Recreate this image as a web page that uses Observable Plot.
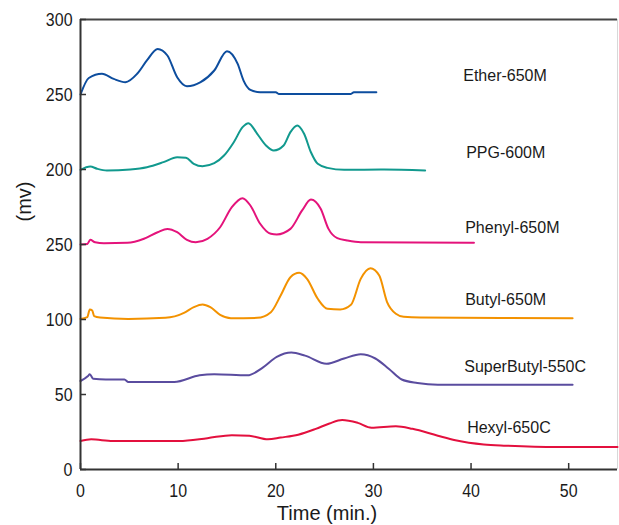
<!DOCTYPE html>
<html><head><meta charset="utf-8">
<script src="https://cdn.jsdelivr.net/npm/d3@7"></script>
<script src="https://cdn.jsdelivr.net/npm/@observablehq/plot@0.6"></script>
<style>
html,body{margin:0;padding:0;background:#fff;}
#chart svg{display:block;}
</style></head><body><div id="chart"></div>
<script>
// Series names and colours
const seriesNames = ["Ether-650M", "PPG-600M", "Phenyl-650M", "Butyl-650M", "SuperButyl-550C", "Hexyl-650C"];
const seriesColors = ["#0d4d9e", "#11998e", "#e4137b", "#f39200", "#5a4c9f", "#e3103e"];

// Ether-650M
const etherT = [0, 0.85, 2.2, 3.4, 4.6, 5.8, 6.8, 7.9, 8.9, 9.9, 10.9, 12.3, 13.7, 15.0, 16.1, 16.7, 17.4, 18.4, 20.0, 20.3, 27.7, 28.0, 30.3];
const etherV = [250, 261, 263.8, 260.4, 258.2, 263.8, 272.7, 280.4, 276, 261.5, 255.5, 258.2, 266, 278.9, 270.4, 259.3, 253.1, 251.5, 251.5, 250.4, 250.4, 251.5, 251.5];

// PPG-600M
const ppgT = [0, 1.0, 1.7, 2.7, 5.1, 6.8, 8.5, 9.9, 10.8, 11.6, 12.5, 13.7, 14.7, 15.7, 16.6, 17.2, 18.1, 19.0, 19.8, 20.8, 21.5, 22.2, 22.9, 23.6, 24.3, 25.3, 27.0, 31.1, 35.3];
const ppgV = [199.8, 202, 200.5, 199.3, 200, 201.5, 204.9, 208.2, 207.8, 203.8, 202.2, 204.2, 209.3, 218.2, 228.2, 230.9, 223.8, 216, 212.7, 216, 224.9, 229.3, 223.8, 211.5, 203.8, 201.1, 199.8, 200, 199.3];

// Phenyl-650M
const phenylT = [0, 0.7, 1.0, 1.5, 2.4, 4.8, 6.5, 7.9, 8.9, 9.9, 10.9, 11.8, 13.0, 14.3, 15.5, 16.6, 17.4, 18.4, 19.5, 20.1, 21.5, 22.7, 23.6, 24.6, 25.4, 26.3, 27.3, 28.7, 40.3];
const phenylV = [150, 150.4, 153.1, 151.5, 150.9, 151.1, 153.8, 158.2, 160.4, 158.2, 153.1, 151.5, 153.8, 161.5, 174.9, 180.9, 176, 163.8, 157.1, 156.7, 160.4, 172.7, 180, 173.8, 160.4, 154.2, 152.7, 151.5, 151.1];

// Butyl-650M
const butylT = [0, 0.7, 0.95, 1.2, 1.4, 2.0, 4.9, 8.7, 10.6, 11.6, 12.5, 13.3, 14.3, 15.4, 18.1, 19.5, 20.5, 21.5, 22.4, 23.2, 24.3, 25.3, 26.6, 27.7, 28.7, 29.7, 30.6, 31.4, 32.3, 33.1, 34.8, 50.4];
const butylV = [100.4, 101.6, 106.7, 106, 102.2, 101.3, 100.4, 101.1, 104.4, 108.2, 110, 108.2, 103.1, 100.9, 101.1, 104.9, 116, 128.2, 131.1, 127.1, 113.8, 107.1, 106.7, 109.8, 127.1, 134.2, 129.3, 111.6, 103.8, 101.8, 101.3, 100.9];

// SuperButyl-550C
const superButylT = [0, 0.77, 0.95, 1.3, 2.6, 4.5, 4.9, 9.6, 12.2, 13.7, 17.1, 18.7, 20.1, 21.6, 23.0, 25.2, 27.0, 28.7, 30.2, 31.6, 32.9, 34.5, 36.6, 50.4];
const superButylV = [59, 62.3, 63.5, 60.5, 60, 60, 58.3, 58.3, 62.8, 63.5, 62.8, 68.1, 75.1, 78, 75.9, 70.5, 74, 76.8, 74, 67, 60, 57.7, 56.5, 56.5];

// Hexyl-650C
const hexylT = [0, 1.1, 3.3, 10.1, 13.0, 15.5, 17.3, 19.2, 20.5, 22.3, 24.1, 25.5, 26.8, 28.4, 29.8, 32.3, 34.0, 36.6, 38.4, 41.3, 43.6, 48.8, 55.0];
const hexylV = [19, 20.1, 19, 19, 20.9, 22.9, 22.5, 20.1, 21.3, 23.2, 27.1, 30.7, 33, 31.1, 27.9, 28.8, 27.1, 22.5, 19.5, 16.7, 15.9, 15, 15];

// Series label anchors (data units)
const labelX = [39.2, 39.5, 39.4, 39.4, 39.3, 39.6];
const labelY = [262.7, 211.3, 161.1, 112.9, 68.4, 27.6];

// Axes
const xTicks = [0, 10, 20, 30, 40, 50];
const yTicks = [0, 50, 100, 150, 200, 250, 300];
const yTickLabels = ["0", "50", "100", "250", "200", "250", "300"];
const xTitle = "Time (min.)";
const yTitle = "(mv)";

const seriesT = [etherT, ppgT, phenylT, butylT, superButylT, hexylT];
const seriesV = [etherV, ppgV, phenylV, butylV, superButylV, hexylV];
const rows = [];
seriesNames.forEach((name, i) => {
  seriesT[i].forEach((t, j) => rows.push({name, t, v: seriesV[i][j]}));
});
const labels = seriesNames.map((name, i) => ({name, x: labelX[i], y: labelY[i]}));

const FONT = "'Liberation Sans', Arial, sans-serif";
const axisColor = "#333";

const chart = Plot.plot({
  width: 619,
  height: 525,
  marginLeft: 80,
  marginRight: 2,
  marginTop: 19,
  marginBottom: 56,
  style: {fontFamily: FONT, background: "#fff", color: "#1a1a1a"},
  x: {domain: [0, 55]},
  y: {domain: [0, 300]},
  color: {domain: seriesNames, range: seriesColors},
  marks: [
    Plot.ruleX([55], {stroke: "#d8d8d8", strokeWidth: 1}),
    Plot.ruleY([300], {stroke: "#444", strokeWidth: 2}),
    Plot.line(rows, {x: "t", y: "v", z: "name", stroke: "name", strokeWidth: 2, curve: "monotone-x"}),
    Plot.text(labels, {x: "x", y: "y", text: "name", textAnchor: "start", fontSize: 16, fill: "#1a1a1a", ariaLabel: "series label"}),
    Plot.axisX({ticks: xTicks, tickSize: -6, tickFormat: () => "", label: null, stroke: axisColor, strokeWidth: 1.5}),
    Plot.axisX({ticks: xTicks, tickSize: 0, tickPadding: 14, label: null, fontSize: 19, fill: "#1a1a1a"}),
    Plot.axisY({ticks: yTicks, tickSize: -6, tickFormat: () => "", label: null, stroke: axisColor, strokeWidth: 1.5}),
    Plot.axisY({ticks: yTicks, tickSize: 0, tickPadding: 8, label: null, fontSize: 19, fill: "#1a1a1a",
      tickFormat: d => yTickLabels[yTicks.indexOf(d)]}),
    Plot.ruleY([0], {stroke: axisColor, strokeWidth: 2}),
    Plot.ruleX([0], {stroke: axisColor, strokeWidth: 2}),
    Plot.text([xTitle], {frameAnchor: "bottom", dx: -22, dy: 50, fontSize: 20, fill: "#1a1a1a", ariaLabel: "axis title"}),
    Plot.text([yTitle], {frameAnchor: "left", dx: -56, dy: -23, rotate: -90, fontSize: 20, fill: "#1a1a1a", ariaLabel: "axis title"})
  ]
});
document.getElementById("chart").appendChild(chart);

// Condense glyphs horizontally to mimic the narrow typeface of the reference
function condense(selector, k) {
  chart.querySelectorAll(selector).forEach(t => {
    const len = t.getComputedTextLength();
    if (len > 0) {
      t.setAttribute("textLength", (len * k).toFixed(2));
      t.setAttribute("lengthAdjust", "spacingAndGlyphs");
    }
  });
}
condense('g[aria-label="x-axis tick label"] text', 0.84);
condense('g[aria-label="y-axis tick label"] text', 0.84);
condense('g[aria-label="series label"] text', 0.89);
condense('g[aria-label="axis title"] text', 0.93);
</script>
</body></html>
